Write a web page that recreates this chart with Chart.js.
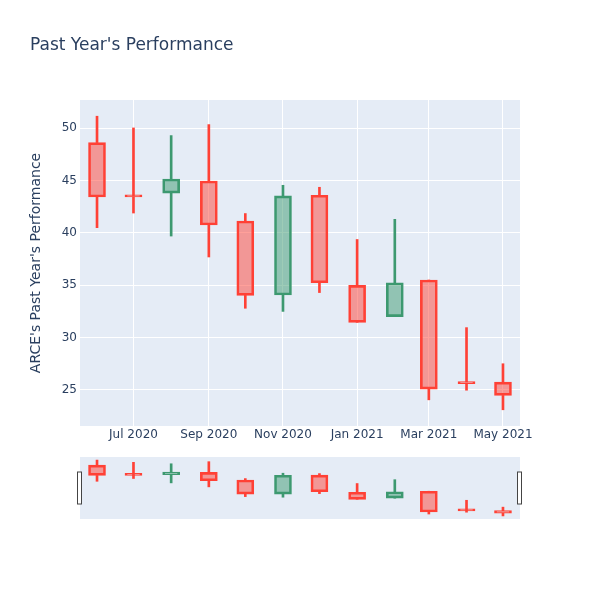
<!DOCTYPE html>
<html>
<head>
<meta charset="utf-8">
<script src="https://cdn.jsdelivr.net/npm/chart.js@4"></script>
<style>
  body { margin: 0; background: #fff; }
  #wrap { position: relative; width: 600px; height: 600px; }
  #main { position: absolute; left: 0; top: 0; }
  #slider { position: absolute; left: 0; top: 440px; }
  #title { position: absolute; left: 30px; top: 36px; font: 17px "DejaVu Sans", sans-serif; line-height: 17px; color: #2a3f5f; }
</style>
</head>
<body>
<div id="wrap">
  <canvas id="main" width="600" height="600"></canvas>
  <canvas id="slider" width="600" height="100"></canvas>
  <div id="title">Past Year's Performance</div>
</div>
<script>
const dates = ["2020-06-01", "2020-07-01", "2020-08-01", "2020-09-01", "2020-10-01", "2020-11-01",
  "2020-12-01", "2021-01-01", "2021-02-01", "2021-03-01", "2021-04-01", "2021-05-01"];
const openVals = [48.63, 43.55, 43.8, 44.96, 41.14, 34.07, 43.6, 34.98, 32.0, 35.5, 25.75, 25.74];
const highVals = [51.15, 50.03, 49.3, 50.35, 41.85, 44.55, 44.36, 39.37, 41.3, 35.5, 30.95, 27.5];
const lowVals = [40.5, 41.9, 39.7, 37.7, 32.8, 32.5, 34.3, 31.45, 32.0, 24.05, 24.97, 23.1];
const closeVals = [43.43, 43.45, 45.15, 40.76, 34.03, 43.54, 35.24, 31.45, 35.24, 25.07, 25.6, 24.47];

const tickDates = ["2020-07-01", "2020-09-01", "2020-11-01", "2021-01-01", "2021-03-01", "2021-05-01"];
const tickLabels = ["Jul 2020", "Sep 2020", "Nov 2020", "Jan 2021", "Mar 2021", "May 2021"];
const yTicks = [25, 30, 35, 40, 45, 50];

const upLine = "#3D9970", upFill = "rgba(61,153,112,0.5)";
const downLine = "#FF4136", downFill = "rgba(255,65,54,0.5)";
const textColor = "#2a3f5f";
const plotBg = "#E5ECF6";

function dayOf(s) {
  const p = s.split("-").map(Number);
  return Date.UTC(p[0], p[1] - 1, p[2]) / 86400000;
}
const xMin = dayOf("2020-05-18");
const xMax = dayOf("2021-05-15");
const yMin = 21.55, yMax = 52.7;

const isUp = openVals.map((o, i) => closeVals[i] >= o);
const lineColors = isUp.map(u => u ? upLine : downLine);
const fillColors = isUp.map(u => u ? upFill : downFill);

function makeDatasets() {
  return [
    {
      data: dates.map((d, i) => ({ x: dayOf(d), y: [openVals[i], closeVals[i]] })),
      backgroundColor: fillColors,
      borderColor: lineColors,
      borderWidth: 2,
      borderSkipped: false,
      barThickness: 17,
      minBarLength: 2,
      grouped: false
    },
    {
      data: dates.map((d, i) => ({ x: dayOf(d), y: [Math.max(openVals[i], closeVals[i]), highVals[i]] })),
      backgroundColor: lineColors,
      borderWidth: 0,
      barThickness: 2,
      grouped: false
    },
    {
      data: dates.map((d, i) => ({ x: dayOf(d), y: [lowVals[i], Math.min(openVals[i], closeVals[i])] })),
      backgroundColor: lineColors,
      borderWidth: 0,
      barThickness: 2,
      grouped: false
    }
  ];
}

const plotBackground = {
  id: "plotBackground",
  beforeDraw(chart) {
    const a = chart.chartArea;
    chart.ctx.save();
    chart.ctx.fillStyle = plotBg;
    chart.ctx.fillRect(a.left, a.top, a.right - a.left, a.bottom - a.top);
    chart.ctx.restore();
  }
};

const tickFont = { family: "'DejaVu Sans', sans-serif", size: 12 };

new Chart(document.getElementById("main").getContext("2d"), {
  type: "bar",
  data: { datasets: makeDatasets() },
  options: {
    responsive: false,
    animation: false,
    layout: { padding: { top: 100, right: 80, bottom: 144, left: 0 } },
    plugins: { legend: { display: false }, tooltip: { enabled: false } },
    scales: {
      x: {
        type: "linear",
        min: xMin,
        max: xMax,
        offset: false,
        border: { display: false },
        grid: { color: "#ffffff", lineWidth: 1, drawTicks: false, offset: false },
        afterBuildTicks: (scale) => { scale.ticks = tickDates.map(d => ({ value: dayOf(d) })); },
        afterFit: (scale) => { scale.height = 30; },
        ticks: {
          color: textColor,
          font: tickFont,
          padding: 2,
          maxRotation: 0,
          autoSkip: false,
          callback: (v) => tickLabels[tickDates.findIndex(d => dayOf(d) === v)]
        }
      },
      y: {
        min: yMin,
        max: yMax,
        border: { display: false },
        grid: { color: "#ffffff", lineWidth: 1, drawTicks: false },
        afterBuildTicks: (scale) => { scale.ticks = yTicks.map(v => ({ value: v })); },
        afterFit: (scale) => { scale.width = 80; },
        ticks: { color: textColor, font: tickFont, padding: 3 },
        title: {
          display: true,
          text: "ARCE's Past Year's Performance",
          color: textColor,
          font: { family: "'DejaVu Sans', sans-serif", size: 14 },
          padding: { top: 28, bottom: 0 }
        }
      }
    }
  },
  plugins: [plotBackground]
});

const sliderHandles = {
  id: "sliderHandles",
  afterDraw(chart) {
    const a = chart.chartArea;
    const ctx = chart.ctx;
    const mid = (a.top + a.bottom) / 2;
    ctx.save();
    ctx.fillStyle = "#ffffff";
    ctx.strokeStyle = "#444444";
    ctx.lineWidth = 1;
    [a.left, a.right].forEach(x => {
      ctx.fillRect(x - 2.5, mid - 16, 4, 32);
      ctx.strokeRect(x - 2.5, mid - 16, 4, 32);
    });
    ctx.restore();
  }
};

new Chart(document.getElementById("slider").getContext("2d"), {
  type: "bar",
  data: { datasets: makeDatasets() },
  options: {
    responsive: false,
    animation: false,
    layout: { padding: { top: 17, right: 80, bottom: 21, left: 80 } },
    plugins: { legend: { display: false }, tooltip: { enabled: false } },
    scales: {
      x: { type: "linear", min: xMin, max: xMax, offset: false, display: false },
      y: { min: yMin, max: yMax, display: false }
    }
  },
  plugins: [plotBackground, sliderHandles]
});
</script>
</body>
</html>
